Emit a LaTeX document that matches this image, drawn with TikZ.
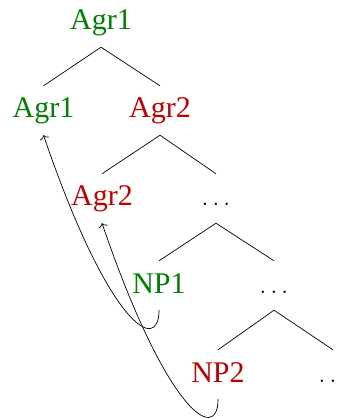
\documentclass[tikz,border=0pt]{standalone}
\usepackage{fontspec}
\setmainfont{Liberation Serif}
\usetikzlibrary{arrows.meta}
\definecolor{agrgreen}{RGB}{0,128,0}
\definecolor{agrred}{RGB}{191,0,0}
\begin{document}
\begin{tikzpicture}[x=1pt,y=-1pt,
  lbl/.style={anchor=base, font=\fontsize{30}{36}\selectfont,
    text height=22pt, text depth=7pt, inner xsep=0pt, inner ysep=10pt},
  gr/.style={lbl, text=agrgreen},
  rd/.style={lbl, text=agrred},
  branch/.style={line width=0.7pt},
  move/.style={-{To[length=4pt,width=10pt]}, line width=0.7pt}]
\useasboundingbox (0,0) rectangle (340,419);
% tree nodes (baselines)
\node[gr] (root)  at (101,30)   {Agr1};
\node[gr] (agra)  at (43.5,118) {Agr1};
\node[rd] (agrb)  at (160,118)  {Agr2};
\node[rd] (agrc)  at (102,206)  {Agr2};
\node[lbl] (dta)  at (216,206)  {$\ldots$};
\node[gr] (npa)   at (159,293)  {NP1};
\node[lbl] (dtb)  at (274,293)  {$\ldots$};
\node[rd] (npb)   at (218,382)  {NP2};
\node[lbl] (dtc)  at (333,382)  {$\ldots$};
% branches
\draw[branch] (agra.north) -- (root.south) -- (agrb.north);
\draw[branch] (agrc.north) -- (agrb.south) -- (dta.north);
\draw[branch] (npa.north) -- (dta.south) -- (dtb.north);
\draw[branch] (npb.north) -- (dtb.south) -- (dtc.north);
% movement arrows
\draw[move] (npa.south) .. controls +(0,44) and +(66,193) .. (agra.south);
\draw[move] (npb.south) .. controls +(0,44) and +(66,193) .. (agrc.south);
\end{tikzpicture}
\end{document}
